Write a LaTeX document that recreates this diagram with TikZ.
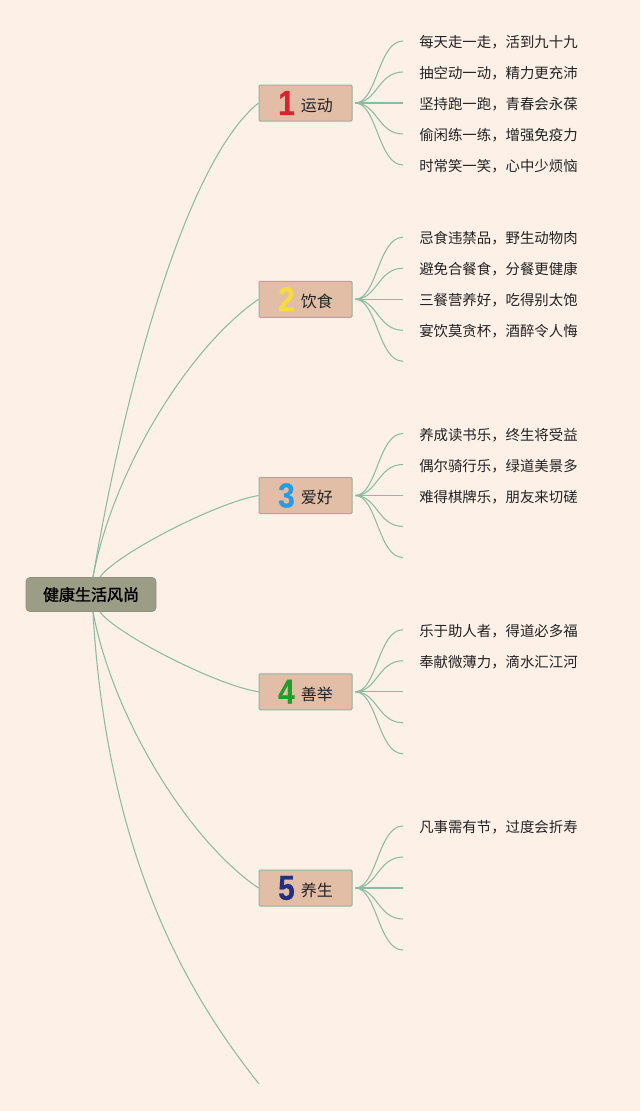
\documentclass[tikz,border=0pt]{standalone}
\usepackage{fontspec}
\setmainfont{Noto Sans CJK SC}
\newfontfamily\rootfont[FakeBold=1.6]{Noto Sans CJK SC}
\newfontfamily\numfont[FakeStretch=0.86,FakeBold=0.6]{Liberation Sans}
\definecolor{bgc}{HTML}{FDF1E7}
\definecolor{rootfill}{HTML}{9B9D87}
\definecolor{rootborder}{HTML}{8E917B}
\definecolor{brfill}{HTML}{E3BEA7}
\definecolor{brborder}{HTML}{8DB5A0}
\definecolor{linkc}{HTML}{8BBBA2}
\definecolor{txt}{HTML}{222222}
\definecolor{nA}{HTML}{D9232E}
\definecolor{nB}{HTML}{F5DC3C}
\definecolor{nC}{HTML}{2A9BE0}
\definecolor{nD}{HTML}{1E9E2A}
\definecolor{nE}{HTML}{23307F}
\begin{document}
\begin{tikzpicture}[x=0.75pt,y=-0.75pt,
  rootbox/.style={draw=rootborder, fill=rootfill, line width=0.6pt, rounded corners=3pt,
    minimum width=97.5pt, minimum height=25.5pt, inner sep=0pt,
    font=\rootfont\fontsize{12}{14}\selectfont, text=black},
  branchbox/.style={draw=brborder, fill=brfill, line width=0.75pt, rounded corners=0.8pt,
    minimum width=69.75pt, minimum height=27pt, inner sep=0pt, text=txt},
  leaftext/.style={anchor=west, inner sep=0pt, font=\fontsize{10.8}{12}\selectfont, text=txt},
  link/.style={draw=linkc, line width=0.8pt}]
\fill[bgc] (0,0) rectangle (640,1111);
\useasboundingbox (0,0) rectangle (640,1111);

\newcommand\brtext[3]{{\numfont\bfseries\fontsize{26}{26}\selectfont\color{#1}#2}\hspace{4.5pt}\raisebox{2.6pt}{\fontsize{12}{14}\selectfont #3}}

\node[rootbox] (r) at (91,594.5) {健康生活风尚};

\node[branchbox] (b1) at (305.5,103) {\brtext{nA}{1}{运动}};
\node[branchbox] (b2) at (305.5,299.25) {\brtext{nB}{2}{饮食}};
\node[branchbox] (b3) at (305.5,495.5) {\brtext{nC}{3}{爱好}};
\node[branchbox] (b4) at (305.5,691.75) {\brtext{nD}{4}{善举}};
\node[branchbox] (b5) at (305.5,888) {\brtext{nE}{5}{养生}};
\coordinate (e6) at (259,1084);

\draw[link] ([xshift=1.5pt]r.north) .. controls (127,377) and (188,160) .. (b1.west);
\draw[link] ([xshift=1.5pt]r.north) .. controls (113,470) and (189,347) .. (b2.west);
\draw[link] ([xshift=6.75pt]r.north) .. controls (115,555) and (215,503) .. (b3.west);
\draw[link] ([xshift=6.75pt]r.south) .. controls (115,633) and (215,685) .. (b4.west);
\draw[link] ([xshift=1.5pt]r.south) .. controls (113,718) and (189,841) .. (b5.west);
\draw[link] ([xshift=1.5pt]r.south) .. controls (108,880) and (205,1015) .. (e6);

\foreach \i in {1,...,5}{
  \foreach \j in {1,...,5}{
    \pgfmathsetmacro\yy{103+196.25*(\i-1)+31*(\j-3)}
    \coordinate (e\i\j) at (403,\yy);
    \draw[link] ([xshift=2pt]b\i.east) .. controls +(22,0) and +(-25,0) .. (e\i\j);
  }
}

\node[leaftext] (t11) at ([xshift=12pt,yshift=-1pt]e11) {每天走一走，活到九十九};
\node[leaftext] (t12) at ([xshift=12pt,yshift=-1pt]e12) {抽空动一动，精力更充沛};
\node[leaftext] (t13) at ([xshift=12pt,yshift=-1pt]e13) {坚持跑一跑，青春会永葆};
\node[leaftext] (t14) at ([xshift=12pt,yshift=-1pt]e14) {偷闲练一练，增强免疫力};
\node[leaftext] (t15) at ([xshift=12pt,yshift=-1pt]e15) {时常笑一笑，心中少烦恼};

\node[leaftext] (t21) at ([xshift=12pt,yshift=-1pt]e21) {忌食违禁品，野生动物肉};
\node[leaftext] (t22) at ([xshift=12pt,yshift=-1pt]e22) {避免合餐食，分餐更健康};
\node[leaftext] (t23) at ([xshift=12pt,yshift=-1pt]e23) {三餐营养好，吃得别太饱};
\node[leaftext] (t24) at ([xshift=12pt,yshift=-1pt]e24) {宴饮莫贪杯，酒醉令人悔};

\node[leaftext] (t31) at ([xshift=12pt,yshift=-1pt]e31) {养成读书乐，终生将受益};
\node[leaftext] (t32) at ([xshift=12pt,yshift=-1pt]e32) {偶尔骑行乐，绿道美景多};
\node[leaftext] (t33) at ([xshift=12pt,yshift=-1pt]e33) {难得棋牌乐，朋友来切磋};

\node[leaftext] (t41) at ([xshift=12pt,yshift=-1pt]e41) {乐于助人者，得道必多福};
\node[leaftext] (t42) at ([xshift=12pt,yshift=-1pt]e42) {奉献微薄力，滴水汇江河};

\node[leaftext] (t51) at ([xshift=12pt,yshift=-1pt]e51) {凡事需有节，过度会折寿};
\end{tikzpicture}
\end{document}
